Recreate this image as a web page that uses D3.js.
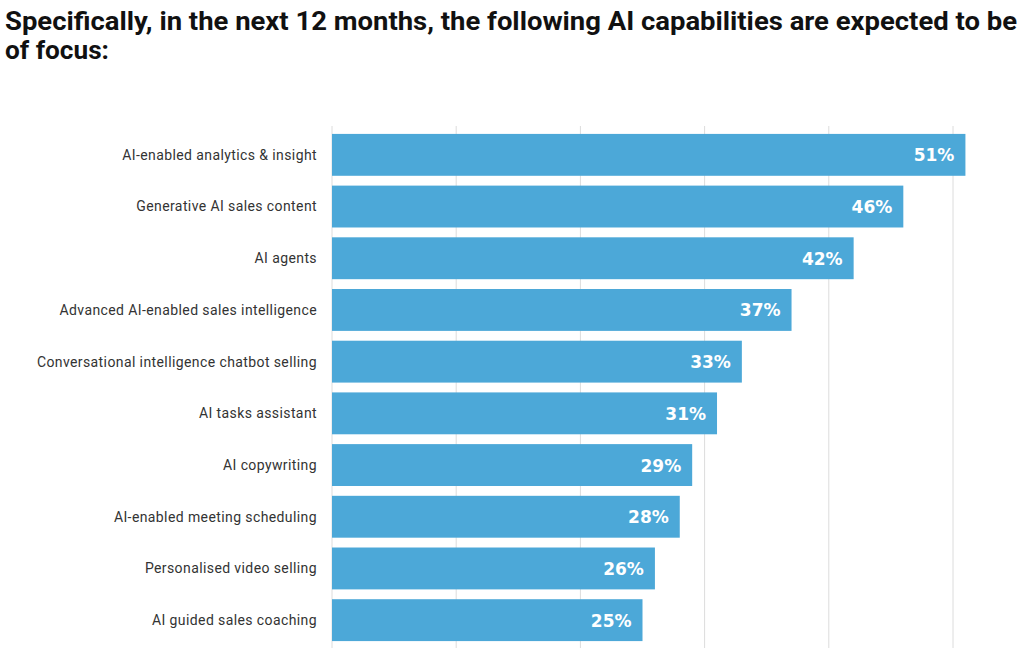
<!DOCTYPE html>
<html>
<head>
<meta charset="utf-8">
<script src="https://cdn.jsdelivr.net/npm/d3@7"></script>
<style>
  body { margin: 0; background: #fff; }
</style>
</head>
<body>
<div class="chart"></div>
<script>
// capacidades de IA y porcentaje
var categories = ["AI-enabled analytics & insight", "Generative AI sales content", "AI agents",
  "Advanced AI-enabled sales intelligence", "Conversational intelligence chatbot selling",
  "AI tasks assistant", "AI copywriting", "AI-enabled meeting scheduling",
  "Personalised video selling", "AI guided sales coaching"];
var values = [51, 46, 42, 37, 33, 31, 29, 28, 26, 25];
var ticks = [0, 10, 20, 30, 40, 50];

var w = 1024;
var h = 648;
var svg = d3.select(".chart")
  .append("svg")
  .attr("width", w)
  .attr("height", h)
  .style("background", "#fff");

svg.append("text")
  .attr("x", 5).attr("y", 30)
  .attr("textLength", 1012).attr("lengthAdjust", "spacingAndGlyphs")
  .style("font-family", "Roboto").style("font-weight", "bold").style("font-size", "25px")
  .attr("fill", "#111")
  .text("Specifically, in the next 12 months, the following AI capabilities are expected to be");
svg.append("text")
  .attr("x", 5).attr("y", 59)
  .attr("textLength", 104).attr("lengthAdjust", "spacingAndGlyphs")
  .style("font-family", "Roboto").style("font-weight", "bold").style("font-size", "25px")
  .attr("fill", "#111")
  .text("of focus:");

var x = d3.scaleLinear().domain([0, 50]).range([332, 953]);
var y = d3.scaleBand().domain(categories).range([129, 646]).paddingInner(0.19).paddingOuter(0.095);

// lineas de la grilla
svg.selectAll(".grid").data(ticks).enter().append("line")
  .attr("x1", function(d) { return x(d); })
  .attr("x2", function(d) { return x(d); })
  .attr("y1", 126).attr("y2", h)
  .attr("stroke", "#dcdcdc").attr("stroke-width", 1);

svg.selectAll(".bar").data(values).enter().append("rect")
  .attr("x", x(0))
  .attr("y", function(d, i) { return y(categories[i]); })
  .attr("width", function(d) { return x(d) - x(0); })
  .attr("height", y.bandwidth())
  .attr("fill", "#4ca8d8");

svg.selectAll(".cat").data(categories).enter().append("text")
  .attr("x", 317)
  .attr("y", function(d) { return y(d) + y.bandwidth() / 2; })
  .attr("dy", "0.35em")
  .attr("text-anchor", "end")
  .style("font-family", "Roboto").style("font-size", "14px").style("letter-spacing", "0.4px")
  .attr("fill", "#333")
  .text(function(d) { return d; });

svg.selectAll(".val").data(values).enter().append("text")
  .attr("x", function(d) { return x(d) - 11; })
  .attr("y", function(d, i) { return y(categories[i]) + y.bandwidth() / 2; })
  .attr("dy", "0.38em")
  .attr("text-anchor", "end")
  .style("font-family", "DejaVu Sans").style("font-weight", "bold").style("font-size", "17px")
  .attr("fill", "#fff")
  .text(function(d) { return d + "%"; });
</script>
</body>
</html>
